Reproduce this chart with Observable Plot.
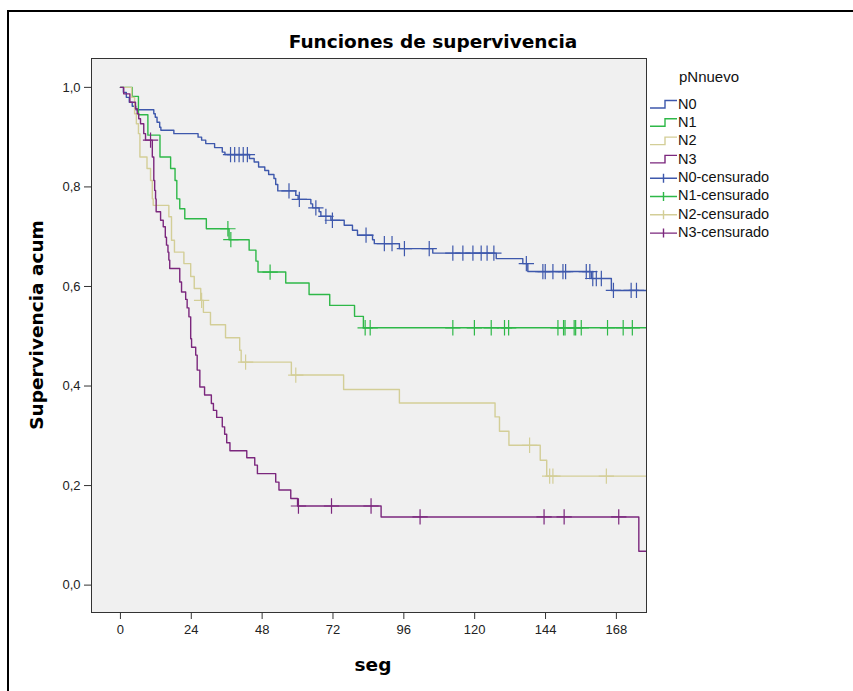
<!DOCTYPE html>
<html><head><meta charset="utf-8">
<script src="https://cdn.jsdelivr.net/npm/d3@7"></script>
<script src="https://cdn.jsdelivr.net/npm/@observablehq/plot@0.6"></script>
<style>
body{margin:0;background:#fff;}
#wrap{position:relative;width:853px;height:691px;overflow:hidden;font-family:"Liberation Sans",Arial,sans-serif;}
#border{position:absolute;left:7px;top:10px;width:900px;height:800px;border-left:2px solid #000;border-top:2px solid #000;pointer-events:none;}
#chart{position:absolute;left:0;top:0;}
.lbl{position:absolute;font-family:"DejaVu Sans",sans-serif;font-weight:bold;color:#000;white-space:nowrap;line-height:1;}
#title{left:433px;top:42px;font-size:18.5px;transform:translate(-50%,-50%);}
#xlab{left:373px;top:665px;font-size:18.5px;transform:translate(-50%,-50%);}
#ylab{left:37px;top:325px;font-size:18.5px;transform:translate(-50%,-50%) rotate(-90deg);}
#legend{position:absolute;left:645px;top:60px;}
</style></head>
<body><div id="wrap"><div id="chart"></div><div id="border"></div>
<div class="lbl" id="title">Funciones de supervivencia</div>
<div class="lbl" id="xlab">seg</div>
<div class="lbl" id="ylab">Supervivencia acum</div>
<svg id="legend" width="208" height="200"></svg>
</div>
<script>
const groups = ["N0", "N1", "N2", "N3"];
const colors = ["#3e58ac", "#2eb848", "#d3ce97", "#7b277d"];
const legendTitle = "pNnuevo";
const xTicks = [0, 24, 48, 72, 96, 120, 144, 168];
const yTicks = [0, 0.2, 0.4, 0.6, 0.8, 1.0];
const followUpEnd = 178;

// N0
const n0Time = [0,1,2,3,4,5.2,11.3,11.8,12.4,13.3,13.7,18.1,26.3,27.5,28.9,31.9,34.5,35.4,43.7,45.3,46.8,48.9,50.2,52,52.6,53.3,59.4,60.2,64.5,65.1,67.3,67.9,71.3,75.8,78.6,80.3,85.4,86,94.5,105.8,127.3,136.3,138,159.5,166.3];
const n0Surv = [1,0.99,0.98,0.97,0.962,0.955,0.947,0.94,0.93,0.92,0.914,0.907,0.9,0.894,0.887,0.879,0.87,0.865,0.857,0.85,0.84,0.833,0.825,0.817,0.805,0.792,0.783,0.775,0.766,0.758,0.75,0.741,0.733,0.723,0.713,0.703,0.694,0.686,0.676,0.667,0.656,0.646,0.63,0.616,0.592];
const n0Cens = [37.3,38.7,40.2,41.6,43.0,57.1,60.6,66.2,69.6,71.8,83.2,89.4,92,96.2,104.6,112.6,116,119.4,122.2,124.2,126.5,137.5,143.1,143.9,146.5,149.9,150.8,157.8,159,160,161.2,162.9,167,173,174.8];

// N1
const n1Time = [0,4,6.1,9.3,13.4,17,18.5,19.1,20.1,21.8,29.1,36.8,43.6,45.9,46.6,56,63.9,70.9,79.3,82.3];
const n1Surv = [1,0.982,0.945,0.904,0.86,0.837,0.813,0.776,0.756,0.736,0.716,0.694,0.673,0.651,0.629,0.607,0.584,0.562,0.54,0.517];
const n1Cens = [36.4,37.4,50.7,82.9,84.6,112.6,119.9,125.6,130.1,131.5,148.2,150.1,150.6,153.7,154.2,156.1,165,170.3,173.4];

// N2
const n2Time = [0,3.8,4.8,5.4,6.1,6.6,9,10.2,10.8,11.1,16.4,17.3,18.3,21.5,23.8,25,27.2,28.1,30.5,35.6,40.4,40.9,57.9,75.6,94.5,126.9,128.4,131.6,142.2,144.4];
const n2Surv = [1,0.98,0.947,0.927,0.907,0.86,0.837,0.813,0.776,0.763,0.74,0.693,0.669,0.646,0.62,0.596,0.572,0.548,0.523,0.497,0.472,0.448,0.422,0.393,0.366,0.338,0.309,0.281,0.251,0.219];
const n2Cens = [27.5,42.4,59.4,138.6,145.4,146.5,164.6];

// N3
const n3Time = [0,1.1,3.2,5.1,5.7,6.2,6.8,7.9,8.5,10.8,11.3,11.6,11.9,12.1,13.6,14.5,15.2,15.6,16.1,16.4,16.7,20.1,20.7,22.1,22.6,23.2,23.8,24.1,25.5,26,26.9,28.5,30.8,31.5,32.6,34.5,35.3,36,37.1,42.8,45.5,46.4,52.6,53.7,57.7,60,88.3,175.6];
const n3Surv = [1,0.987,0.97,0.957,0.947,0.937,0.927,0.907,0.894,0.86,0.813,0.793,0.776,0.75,0.733,0.72,0.699,0.683,0.669,0.653,0.636,0.609,0.589,0.574,0.557,0.539,0.495,0.478,0.462,0.432,0.398,0.382,0.365,0.351,0.337,0.318,0.303,0.286,0.27,0.256,0.241,0.224,0.207,0.191,0.174,0.159,0.137,0.068];
const n3Cens = [10.2,60.3,71.5,84.9,101.5,143.5,150.3,168.8];

const series = [
  {g: "N0", time: n0Time, surv: n0Surv, cens: n0Cens},
  {g: "N1", time: n1Time, surv: n1Surv, cens: n1Cens},
  {g: "N2", time: n2Time, surv: n2Surv, cens: n2Cens},
  {g: "N3", time: n3Time, surv: n3Surv, cens: n3Cens}
];

const steps = [];
const censored = [];
for (const s of series) {
  s.time.forEach((t, i) => steps.push({g: s.g, t, s: s.surv[i]}));
  steps.push({g: s.g, t: followUpEnd, s: s.surv[s.surv.length - 1]});
  for (const c of s.cens) {
    const i = d3.bisectRight(s.time, c) - 1;
    censored.push({g: s.g, t: c, s: s.surv[i]});
  }
}

const fmt = d => d.toFixed(1).replace(".", ",");

const chart = Plot.plot({
  width: 853,
  height: 691,
  marginLeft: 91,
  marginRight: 207,
  marginTop: 58,
  marginBottom: 79,
  style: {background: "transparent", fontFamily: "'Liberation Sans', Arial, sans-serif", color: "#222"},
  x: {domain: [-9.8, 178.2]},
  y: {domain: [-0.055, 1.058]},
  color: {domain: groups, range: colors},
  marks: [
    Plot.frame({fill: "#f0f0f0", stroke: "none"}),
    Plot.line(steps, {x: "t", y: "s", z: "g", stroke: "g", curve: "step-after", strokeWidth: 1.4}),
    Plot.dot(censored, {x: "t", y: "s", stroke: "g", symbol: "plus", r: 5, strokeWidth: 1.2}),
    Plot.frame({stroke: "#333", strokeWidth: 1}),
    Plot.axisX({ticks: xTicks, tickFormat: d => String(d), tickSize: 7, tickPadding: 5, fontSize: 13, label: null, stroke: "#333"}),
    Plot.axisY({ticks: yTicks, tickFormat: fmt, tickSize: 7, tickPadding: 4, fontSize: 13, label: null, stroke: "#333"})
  ]
});
document.getElementById("chart").appendChild(chart);

// Legend
const lg = d3.select("#legend");
lg.append("text").attr("x", 34).attr("y", 18).attr("dominant-baseline", "middle")
  .attr("font-family", "'Liberation Sans', Arial, sans-serif").attr("font-size", 15).attr("fill", "#111").text(legendTitle);
const items = [];
groups.forEach((g, i) => items.push({label: g, color: colors[i], kind: "step"}));
groups.forEach((g, i) => items.push({label: g + "-censurado", color: colors[i], kind: "cens"}));
items.forEach((it, i) => {
  const cy = 45 + 18.3 * i;
  if (it.kind === "step") {
    lg.append("path").attr("d", `M5,${cy + 3}H20V${cy - 4.5}H32`).attr("fill", "none")
      .attr("stroke", it.color).attr("stroke-width", 1.4);
  } else {
    lg.append("path").attr("d", `M5,${cy}H32M18.5,${cy - 4.5}V${cy + 4.5}`).attr("fill", "none")
      .attr("stroke", it.color).attr("stroke-width", 1.4);
  }
  lg.append("text").attr("x", 33).attr("y", cy).attr("dominant-baseline", "middle")
    .attr("font-family", "'Liberation Sans', Arial, sans-serif").attr("font-size", 14.5).attr("fill", "#111").text(it.label);
});
</script>
</body></html>
